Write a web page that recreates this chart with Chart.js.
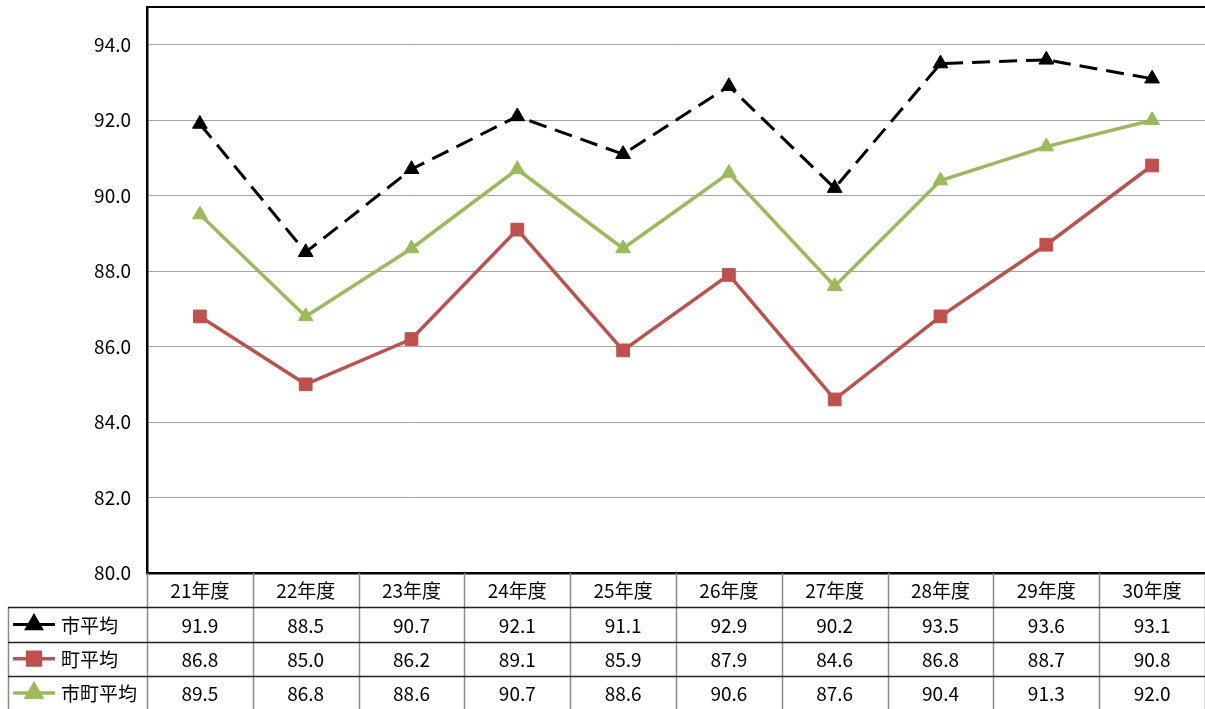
<!DOCTYPE html>
<html>
<head>
<meta charset="utf-8">
<script src="https://cdn.jsdelivr.net/npm/chart.js@4/dist/chart.umd.min.js"></script>
<style>
  html, body { margin: 0; padding: 0; background: #fff; }
  #wrap { width: 1205px; height: 709px; position: relative; }
</style>
</head>
<body>
<div id="wrap"><canvas id="c" width="1205" height="709"></canvas></div>
<script>
const categories = ['21年度','22年度','23年度','24年度','25年度','26年度','27年度','28年度','29年度','30年度'];
const cityAvg = [91.9, 88.5, 90.7, 92.1, 91.1, 92.9, 90.2, 93.5, 93.6, 93.1];
const townAvg = [86.8, 85.0, 86.2, 89.1, 85.9, 87.9, 84.6, 86.8, 88.7, 90.8];
const allAvg  = [89.5, 86.8, 88.6, 90.7, 88.6, 90.6, 87.6, 90.4, 91.3, 92.0];
const seriesNames = ['市平均', '町平均', '市町平均'];
const yTickValues = [80, 82, 84, 86, 88, 90, 92, 94];

const FONT = '"Noto Sans CJK JP", "Noto Sans", sans-serif';

const tablePlugin = {
  id: 'dataTable',
  afterDraw(chart) {
    const { ctx, chartArea } = chart;
    const x = chart.scales.x;
    const top = chartArea.bottom;
    const rowH = (chart.height + 1 - top) / 4;
    const step = x.getPixelForValue(1) - x.getPixelForValue(0);
    const half = step / 2;
    const leftEdge = 8;
    const right = chartArea.right;
    ctx.save();
    // top frame line
    ctx.strokeStyle = '#000';
    ctx.lineWidth = 2;
    ctx.beginPath();
    ctx.moveTo(chartArea.left, chartArea.top);
    ctx.lineTo(right, chartArea.top);
    ctx.stroke();

    // vertical grey lines in table
    ctx.strokeStyle = '#8c8c8c';
    ctx.lineWidth = 1.5;
    for (let i = 0; i <= categories.length; i++) {
      const px = Math.round(x.getPixelForValue(0) - half + i * step) + 0.5;
      ctx.beginPath();
      ctx.moveTo(px, top);
      ctx.lineTo(px, chart.height);
      ctx.stroke();
    }
    ctx.beginPath();
    ctx.moveTo(leftEdge + 0.5, top + rowH);
    ctx.lineTo(leftEdge + 0.5, chart.height);
    ctx.stroke();

    // horizontal dark lines
    ctx.strokeStyle = '#222';
    ctx.lineWidth = 1.5;
    for (let r = 1; r <= 3; r++) {
      const py = Math.round(top + r * rowH) + 0.5;
      ctx.beginPath();
      ctx.moveTo(leftEdge, py);
      ctx.lineTo(right, py);
      ctx.stroke();
    }

    // header text
    ctx.fillStyle = '#000';
    ctx.font = '19px ' + FONT;
    ctx.textAlign = 'center';
    ctx.textBaseline = 'middle';
    categories.forEach((c, i) => {
      ctx.fillText(c, x.getPixelForValue(i), top + rowH / 2 + 1);
    });

    // data rows
    chart.data.datasets.forEach((ds, r) => {
      const cy = top + (r + 1.5) * rowH + 1;
      ctx.fillStyle = '#000';
      ctx.textAlign = 'center';
      ds.data.forEach((v, i) => {
        ctx.fillText(v.toFixed(1), x.getPixelForValue(i), cy);
      });
      // legend key
      const ly = cy - 1;
      ctx.save();
      ctx.strokeStyle = ds.borderColor;
      ctx.lineWidth = ds.borderWidth;
      ctx.setLineDash(ds.borderDash || []);
      ctx.beginPath();
      ctx.moveTo(13, ly);
      ctx.lineTo(55, ly);
      ctx.stroke();
      ctx.setLineDash([]);
      Chart.helpers.drawPoint(ctx, {
        pointStyle: ds.pointStyle, radius: ds.pointRadius, rotation: 0,
        borderWidth: 1
      }, 34, ly);
      ctx.fillStyle = ds.pointBackgroundColor;
      ctx.strokeStyle = ds.pointBackgroundColor;
      ctx.fill();
      ctx.restore();
      ctx.fillStyle = '#000';
      ctx.textAlign = 'left';
      ctx.fillText(seriesNames[r], 61, cy);
    });
    ctx.restore();
  }
};

new Chart(document.getElementById('c'), {
  type: 'line',
  data: {
    labels: categories,
    datasets: [
      {
        label: seriesNames[0], data: cityAvg,
        borderColor: '#000000', borderWidth: 3, borderDash: [18, 9],
        pointStyle: 'triangle', pointRadius: 8.5,
        pointBackgroundColor: '#000000', pointBorderColor: '#000000', pointBorderWidth: 1,
        tension: 0
      },
      {
        label: seriesNames[1], data: townAvg,
        borderColor: '#C0504D', borderWidth: 3.5,
        pointStyle: 'rect', pointRadius: 9,
        pointBackgroundColor: '#C0504D', pointBorderColor: '#C0504D', pointBorderWidth: 1,
        tension: 0
      },
      {
        label: seriesNames[2], data: allAvg,
        borderColor: '#9BBB59', borderWidth: 3.5,
        pointStyle: 'triangle', pointRadius: 8.5,
        pointBackgroundColor: '#9BBB59', pointBorderColor: '#9BBB59', pointBorderWidth: 1,
        tension: 0
      }
    ]
  },
  options: {
    responsive: false,
    animation: false,
    events: [],
    layout: { autoPadding: false, padding: { top: 7, right: 0, bottom: 0, left: 0 } },
    plugins: { legend: { display: false }, tooltip: { enabled: false } },
    scales: {
      x: {
        offset: true,
        grid: { display: false, drawTicks: false },
        border: { display: true, color: '#000', width: 2.5 },
        ticks: { display: false },
        afterFit(scale) {
          scale.height = 136;
          scale.paddingLeft = 0; scale.paddingRight = 0;
          scale.paddingTop = 0; scale.paddingBottom = 0;
        }
      },
      y: {
        min: 80, max: 95,
        afterBuildTicks(scale) { scale.ticks = yTickValues.map(v => ({ value: v })); },
        grid: { color: '#a6a6a6', lineWidth: 1, drawTicks: false },
        border: { display: true, color: '#000', width: 2.5 },
        ticks: {
          padding: 16,
          color: '#000',
          font: { family: FONT, size: 19 },
          callback: v => Number(v).toFixed(1)
        },
        afterFit(scale) {
          scale.width = 147;
          scale.paddingTop = 0; scale.paddingBottom = 0;
          scale.paddingLeft = 0; scale.paddingRight = 0;
        }
      }
    }
  },
  plugins: [tablePlugin]
});
</script>
</body>
</html>
